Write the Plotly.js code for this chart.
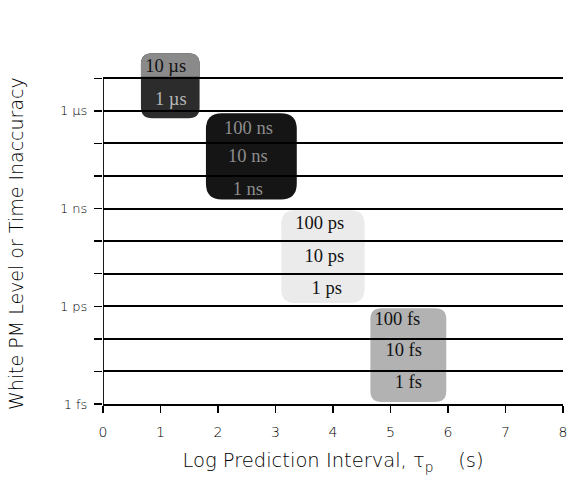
<!DOCTYPE html>
<html>
<head>
<meta charset="utf-8">
<script src="https://cdn.plot.ly/plotly-3.0.1.min.js"></script>
<style>
html,body{margin:0;padding:0;background:#fff;}
#chart{width:568px;height:485px;}
</style>
</head>
<body>
<div id="chart"></div>
<script>
// ---- data (log10 of seconds on y, log10 of prediction interval on x) ----
const xTickVals = [0, 1, 2, 3, 4, 5, 6, 7, 8];
const yDecades = [-15, -14, -13, -12, -11, -10, -9, -8, -7, -6, -5];
const yLabelVals = [-15, -12, -9, -6];
const yLabelText = ['1 fs', '1 ps', '1 ns', '1 \u00b5s'];

const boxX0 = [0.66, 1.79, 3.10, 4.65];
const boxX1 = [1.68, 3.37, 4.55, 5.97];
const boxYTop = [-4.23, -6.07, -9.05, -12.06];
const boxYBottom = [-6.23, -8.72, -11.9, -14.94];
const boxFill = ['#2c2c2c', '#151515', '#ebebeb', '#b2b2b2'];

const labelText = ['10 \u00b5s', '1 \u00b5s', '100 ns', '10 ns', '1 ns',
                   '100 ps', '10 ps', '1 ps', '100 fs', '10 fs', '1 fs'];
const labelX = [1.09, 1.18, 2.53, 2.52, 2.52, 3.77, 3.85, 3.89, 5.12, 5.23, 5.31];
const labelY = [-4.66, -5.67, -6.56, -7.42, -8.44, -9.49, -10.49, -11.47, -12.43, -13.38, -14.36];
const labelColor = ['#111', '#b8b8b8', '#8e8e8e', '#8e8e8e', '#8e8e8e',
                    '#111', '#111', '#111', '#111', '#111', '#111'];

// ---- geometry helpers ----
const plotW = 460, plotH = 355;
const xRange = [0, 8], yRange = [-15, -4.1];
const pxPerX = plotW / (xRange[1] - xRange[0]);
const pxPerY = plotH / (yRange[1] - yRange[0]);

function roundRect(x0, x1, yb, yt, rPx, roundBottom) {
  const rx = rPx / pxPerX, ry = rPx / pxPerY;
  let p = `M${x0 + rx},${yt} L${x1 - rx},${yt} Q${x1},${yt} ${x1},${yt - ry} `;
  if (roundBottom) {
    p += `L${x1},${yb + ry} Q${x1},${yb} ${x1 - rx},${yb} L${x0 + rx},${yb} Q${x0},${yb} ${x0},${yb + ry} `;
  } else {
    p += `L${x1},${yb} L${x0},${yb} `;
  }
  p += `L${x0},${yt - ry} Q${x0},${yt} ${x0 + rx},${yt} Z`;
  return p;
}

const radii = [11, 16, 14, 11];
const shapes = [];
for (let i = 0; i < boxX0.length; i++) {
  shapes.push({
    type: 'path', xref: 'x', yref: 'y', layer: 'below',
    path: roundRect(boxX0[i], boxX1[i], boxYBottom[i], boxYTop[i], radii[i], true),
    fillcolor: boxFill[i], line: {width: 0}
  });
}
// lighter upper part of the first box
{
  const h = boxYTop[0] - boxYBottom[0];
  shapes.push({
    type: 'path', xref: 'x', yref: 'y', layer: 'below',
    path: roundRect(boxX0[0], boxX1[0], boxYTop[0] - 0.36 * h, boxYTop[0], radii[0], false),
    fillcolor: '#8a8a8a', line: {width: 0}
  });
}
// vertical y axis line spanning the decade grid only
shapes.push({
  type: 'line', xref: 'x', yref: 'y',
  x0: xRange[0], x1: xRange[0],
  y0: Math.min(...yDecades), y1: Math.max(...yDecades),
  line: {color: '#000', width: 1.8}
});

const sans = "'DejaVu Sans', 'Liberation Sans', sans-serif";

const traces = [{
  type: 'scatter', mode: 'text',
  x: labelX, y: labelY, text: labelText,
  textposition: 'middle center',
  textfont: {family: "'Liberation Serif', 'DejaVu Serif', serif", size: 18.5, color: labelColor},
  cliponaxis: false, hoverinfo: 'skip', showlegend: false
}];

const layout = {
  width: 568, height: 485,
  margin: {l: 103, r: 5, t: 49, b: 81, pad: 0},
  paper_bgcolor: '#fff', plot_bgcolor: 'rgba(0,0,0,0)',
  showlegend: false,
  font: {family: sans, color: '#000'},
  xaxis: {
    range: xRange, tickvals: xTickVals, ticktext: xTickVals.map(String),
    showgrid: false, zeroline: false,
    showline: true, linecolor: '#000', linewidth: 2,
    ticks: 'outside', ticklen: 7, tickwidth: 1.5, tickcolor: '#000',
    ticklabelstandoff: 7,
    tickfont: {family: sans, size: 14, weight: 300, color: '#000'},
    title: {text: 'Log Prediction Interval, \u03c4<sub>p</sub>\u00a0\u00a0\u00a0\u00a0(s)',
            font: {family: sans, size: 19.5, weight: 300, color: '#000'}, standoff: 15}
  },
  yaxis: {
    range: yRange, tickmode: 'array', tickvals: yLabelVals, ticktext: yLabelText,
    showgrid: true, gridcolor: '#000', gridwidth: 2,
    zeroline: false, showline: false,
    ticks: 'outside', ticklen: 8, tickwidth: 1.5, tickcolor: '#000',
    ticklabelstandoff: 4,
    tickfont: {family: sans, size: 13, weight: 300, color: '#000'},
    minor: {tickvals: yDecades, ticks: 'outside', ticklen: 8, tickwidth: 1.5, tickcolor: '#000',
            showgrid: true, gridcolor: '#000', gridwidth: 2}
  },
  annotations: [{
    text: 'White PM Level or Time Inaccuracy',
    textangle: -90, showarrow: false,
    xref: 'paper', yref: 'paper',
    x: (16 - 103) / plotW, y: (404 - 244) / plotH,
    xanchor: 'center', yanchor: 'middle',
    font: {family: sans, size: 19, weight: 300, color: '#000'}
  }],
  shapes: shapes
};

Plotly.newPlot('chart', traces, layout, {displayModeBar: false, staticPlot: true});
</script>
</body>
</html>
